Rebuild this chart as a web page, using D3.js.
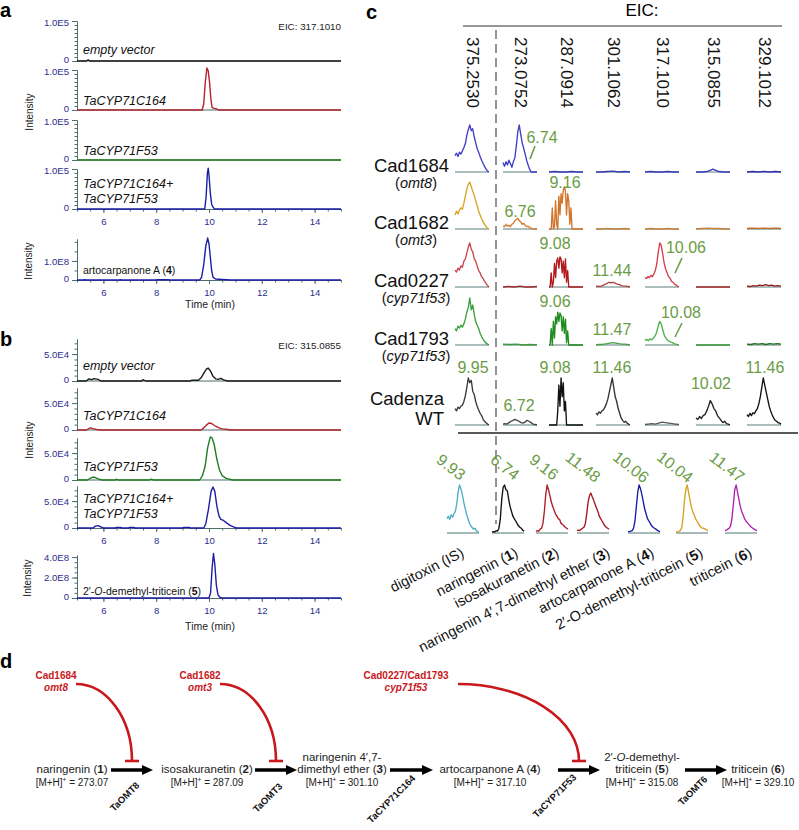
<!DOCTYPE html>
<html><head><meta charset="utf-8">
<script src="https://cdn.jsdelivr.net/npm/d3@7"></script>
<style>
body{margin:0;background:#fff}
svg{display:block;font-family:"Liberation Sans",Arial,Helvetica,sans-serif}
</style>
</head><body><svg id="fig" width="799" height="830"></svg>
<script>
// ================= DATA =================
// ---- panels a / b ----
const timeTicks = [6, 8, 10, 12, 14];
const sampleNames = ["empty vector", "TaCYP71C164", "TaCYP71F53", "TaCYP71C164+|TaCYP71F53"];
const sampleColors = ["#1b1b1b", "#b3232a", "#1f7d22", "#1d1da6"];
const eicA = "EIC: 317.1010";
const eicB = "EIC: 315.0855";
const aTickValues = [0, 1e5];
const aTickLabels = ["0", "1.0E5"];
const aStdTickValues = [0, 1e8];
const aStdTickLabels = ["0", "1.0E8"];
const bTickValues = [0, 5e4];
const bTickLabels = ["0", "5.0E4"];
const bStdTickValues = [0, 2e8, 4e8];
const bStdTickLabels = ["0", "2.0E8", "4.0E8"];
const aStdName = "artocarpanone A (**4**)";
const bStdName = "2′-_O_-demethyl-triticein (**5**)";

// [time (min), intensity]
const aTrace0 = [[5,0],[5.36,0],[5.42,3000],[5.48,0],[15,0]];
const aTrace1 = [[5,0],[9.74,0],[9.8,15000],[9.86,70000],[9.92,105000],[9.97,98000],[10.02,70000],[10.07,28000],[10.12,6000],[10.2,4000],[10.3,2500],[10.36,0],[15,0]];
const aTrace2 = [[5,0],[15,0]];
const aTrace3 = [[5,0],[9.84,0],[9.89,30000],[9.94,90000],[9.97,102000],[10.0,85000],[10.05,40000],[10.1,12000],[10.16,4000],[10.22,0],[15,0]];
const aStdTrace = [[5,0],[5.25,0],[5.3,2e6],[5.36,0],[6.6,0],[6.65,2e6],[6.7,0],[8.0,0],[8.05,1.5e6],[8.3,1e6],[8.45,2e6],[8.5,0],[9.65,0],[9.72,1.5e7],[9.8,8e7],[9.88,1.8e8],[9.95,2.2e8],[10.0,1.9e8],[10.05,1.2e8],[10.1,5e7],[10.15,1.5e7],[10.25,5e6],[10.5,3e6],[10.7,1e6],[10.8,0],[15,0]];

const bTrace0 = [[5,0],[5.35,0],[5.45,4000],[5.55,2500],[5.65,4500],[5.8,3000],[5.9,0],[7.45,0],[7.5,2500],[7.6,0],[9.3,0],[9.35,1500],[9.6,1500],[9.7,6000],[9.8,14000],[9.9,22000],[9.97,24000],[10.05,19000],[10.15,9000],[10.25,4000],[10.35,3000],[10.45,5000],[10.55,2000],[10.7,0],[15,0]];
const bTrace1 = [[5,0],[5.35,0],[5.5,4000],[5.6,2500],[5.75,1000],[5.9,0],[9.7,0],[9.8,4000],[9.9,9000],[10.0,13000],[10.1,12000],[10.25,7000],[10.4,3500],[10.5,2000],[10.65,1500],[10.8,0],[15,0]];
const bTrace2 = [[5,0],[5.4,0],[5.55,4500],[5.65,5500],[5.8,2000],[5.95,0],[6.45,0],[6.5,1500],[6.55,0],[7.75,0],[7.8,1500],[7.9,0],[9.65,0],[9.75,8000],[9.85,25000],[9.95,60000],[10.05,80000],[10.12,78000],[10.2,65000],[10.3,38000],[10.4,18000],[10.5,8000],[10.65,3000],[10.9,0],[15,0]];
const bTrace3 = [[5,0],[5.6,0],[5.7,3500],[5.8,4500],[5.9,2000],[6.0,0],[6.45,0],[6.5,1200],[6.65,1200],[6.7,0],[6.95,0],[7.0,1200],[7.15,1200],[7.2,0],[9.0,0],[9.05,1200],[9.25,1200],[9.3,0],[9.8,0],[9.88,8000],[9.98,35000],[10.08,68000],[10.15,76000],[10.22,68000],[10.3,40000],[10.38,22000],[10.45,16000],[10.55,14000],[10.65,10000],[10.8,5000],[10.95,1500],[11.05,0],[15,0]];
const bStdTrace = [[5,0],[10.0,0],[10.06,5e7],[10.12,3e8],[10.17,4.35e8],[10.22,3.3e8],[10.28,1.2e8],[10.34,3e7],[10.42,5e6],[10.5,0],[15,0]];

// ---- panel c ----
const eicMasses = ["375.2530","273.0752","287.0914","301.1062","317.1010","315.0855","329.1012"];
const lineNames = ["Cad1684","Cad1682","Cad0227","Cad1793","Cadenza"];
const lineSubs = ["(_omt8_)","(_omt3_)","(_cyp71f53_)","(_cyp71f53_)","WT"];
const lineColors = [
  ["#3f3fc9","#3f3fc9","#3a3ab8","#3a3ab8","#3a3ab8","#3a3ab8","#2f2fb0"],
  ["#d8a52a","#d47b2e","#d2742a","#c9823c","#c9823c","#c9823c","#c46a22"],
  ["#c9464f","#a52a2a","#b3181c","#b54545","#d2404c","#a82828","#8b1a1a"],
  ["#3aa03a","#3a9a3a","#1e8c1e","#4aa04a","#4cb04c","#3a9a3a","#1e6e1e"],
  ["#3a3a3a","#444444","#111111","#333333","#555555","#222222","#111111"]
];
// normalised traces, one per EIC column
const row1Traces = [
  [0.35,0.4,0.33,0.42,0.38,0.45,0.52,0.6,0.78,0.9,1.0,0.88,0.92,0.75,0.62,0.5,0.42,0.33,0.25,0.18,0.12,0.06,0.02,0.0],
  [0.2,0.12,0.22,0.15,0.25,0.18,0.1,0.22,0.3,0.55,0.85,1.0,0.8,0.62,0.5,0.38,0.25,0.15,0.06,0.0,0,0,0,0],
  [0,0.01,0,0,0.01,0,0],
  [0,0,0.01,0.02,0,0.01,0],
  [0,0.01,0,0,0.01,0,0],
  [0,0,0.01,0.06,0.01,0,0],
  [0,0.01,0,0.01,0,0.01,0]
];
const row2Traces = [
  [0.3,0.38,0.32,0.4,0.45,0.42,0.55,0.7,0.85,0.95,1.0,0.9,0.8,0.72,0.6,0.5,0.38,0.3,0.22,0.15,0.1,0.05,0.02,0],
  [0.06,0.05,0.1,0.06,0.08,0.05,0.1,0.12,0.18,0.2,0.23,0.18,0.15,0.1,0.12,0.08,0.05,0.06,0.03,0.02,0,0,0,0],
  [0,0,0,0.45,0,0.05,0.6,0.1,0,0.7,0.3,0.75,0.55,0.82,0.9,0.8,0.3,0.75,0.6,0.1,0.45,0,0,0,0,0,0,0,0,0,0,0],
  [0,0,0.01,0,0,0.01,0],
  [0,0.01,0,0,0.01,0,0],
  [0,0.01,0.02,0.01,0.01,0,0],
  [0.01,0.02,0.01,0.02,0.01,0.02,0.01]
];
const row3Traces = [
  [0.36,0.32,0.4,0.36,0.45,0.42,0.55,0.6,0.72,0.85,0.94,0.8,0.75,0.6,0.55,0.45,0.35,0.3,0.22,0.18,0.12,0.08,0.03,0.0],
  [0,0.01,0,0.02,0,0,0.01],
  [0,0,0.3,0,0.1,0.5,0.2,0.55,0.62,0.4,0.64,0.6,0.3,0.55,0.2,0.6,0.1,0.35,0,0,0,0,0,0,0,0,0,0,0,0,0,0],
  [0.01,0.02,0.01,0.03,0.05,0.07,0.1,0.09,0.1,0.08,0.06,0.05,0.03,0.02,0.02,0.01,0],
  [0.2,0.18,0.22,0.2,0.25,0.22,0.28,0.35,0.5,0.75,0.94,0.88,0.7,0.5,0.38,0.3,0.22,0.18,0.12,0.1,0.06,0.04,0.02,0],
  [0,0,0,0,0,0],
  [0.02,0.01,0.03,0.02,0.04,0.03,0.05,0.03,0.04,0.02,0.03,0.02]
];
const row4Traces = [
  [0.35,0.3,0.4,0.36,0.42,0.38,0.45,0.55,0.7,0.8,1.0,0.75,0.85,0.65,0.5,0.42,0.35,0.25,0.18,0.12,0.08,0.04,0.02,0],
  [0.02,0.01,0.02,0,0.01,0],
  [0,0,0.35,0,0.5,0.15,0.6,0.45,0.7,0.5,0.68,0.62,0.3,0.6,0.25,0.55,0.05,0.3,0,0,0,0,0,0,0,0,0,0,0,0,0,0],
  [0,0.01,0.01,0.02,0.03,0.04,0.05,0.04,0.03,0.02,0.02,0.01,0],
  [0.1,0.12,0.09,0.13,0.11,0.14,0.18,0.25,0.38,0.5,0.45,0.32,0.2,0.14,0.1,0.08,0.06,0.05,0.03,0.02,0.01,0],
  [0,0,0,0,0,0],
  [0.02,0.01,0.03,0.02,0.03,0.01,0.03,0.02,0.03,0.02]
];
const row5Traces = [
  [0.35,0.3,0.38,0.35,0.4,0.42,0.5,0.62,0.8,1.0,0.9,0.95,0.72,0.65,0.5,0.4,0.32,0.25,0.2,0.12,0.08,0.05,0.02,0],
  [0.02,0.03,0.02,0.05,0.08,0.1,0.12,0.1,0.08,0.05,0.04,0.06,0.1,0.08,0.05,0.02,0.01,0],
  [0,0,0,0,0,0,0,0,0.3,0.85,0.4,1.0,0.6,0.9,0.3,0.5,0,0,0,0,0,0,0,0,0,0,0,0,0,0,0,0],
  [0.25,0.22,0.28,0.25,0.3,0.32,0.38,0.45,0.55,0.7,0.85,1.0,0.8,0.6,0.5,0.35,0.25,0.15,0.1,0.06,0.08,0.04,0.02,0],
  [0.01,0.02,0.03,0.02,0.04,0.06,0.05,0.04,0.03,0.02,0.01],
  [0.15,0.12,0.18,0.14,0.2,0.22,0.3,0.4,0.52,0.45,0.35,0.3,0.2,0.15,0.1,0.05,0.08,0.03,0.02,0],
  [0.22,0.18,0.25,0.2,0.26,0.24,0.3,0.35,0.45,0.6,0.8,1.0,0.85,0.7,0.55,0.4,0.3,0.22,0.15,0.1,0.08,0.05,0.04,0.02]
];
const lineTraces = [row1Traces, row2Traces, row3Traces, row4Traces, row5Traces];
// retention-time annotations: [column index, label]
const lineRtLabels = [
  [[1,"6.74"]],
  [[1,"6.76"],[2,"9.16"]],
  [[2,"9.08"],[3,"11.44"],[4,"10.06"]],
  [[2,"9.06"],[3,"11.47"],[4,"10.08"]],
  [[0,"9.95"],[1,"6.72"],[2,"9.08"],[3,"11.46"],[5,"10.02"],[6,"11.46"]]
];
const stdNames = ["digitoxin (IS)","naringenin (**1**)","isosakuranetin (**2**)","naringenin 4′,7-dimethyl ether (**3**)","artocarpanone A (**4**)","2′-O-demethyl-triticein (**5**)","triticein (**6**)"];
const stdRts = ["9.93","6.74","9.16","11.48","10.06","10.04","11.47"];
const stdColors = ["#4fadc9","#111111","#b01c24","#a8161e","#1a1aa6","#d7a020","#b01fb0"];
const stdTraces = [
  [0.3,0.35,0.28,0.38,0.33,0.4,0.45,0.6,0.85,1.0,0.92,0.8,0.65,0.52,0.4,0.3,0.22,0.15,0.12,0.08,0.1,0.05,0.03,0.02],
  [0.02,0.03,0.02,0.05,0.04,0.1,0.3,0.7,0.95,1.0,0.9,0.88,0.7,0.55,0.45,0.35,0.3,0.25,0.2,0.15,0.12,0.1,0.06,0.04],
  [0.03,0.05,0.04,0.08,0.1,0.2,0.45,0.8,1.0,0.9,0.78,0.65,0.55,0.48,0.4,0.35,0.3,0.28,0.2,0.18,0.15,0.12,0.1,0.08],
  [0.05,0.06,0.05,0.08,0.1,0.12,0.2,0.4,0.65,0.78,0.83,0.75,0.68,0.6,0.52,0.45,0.35,0.3,0.25,0.2,0.15,0.12,0.1,0.08],
  [0.03,0.03,0.04,0.05,0.1,0.25,0.55,0.85,1.0,0.92,0.8,0.65,0.5,0.4,0.3,0.25,0.2,0.15,0.12,0.1,0.08,0.06,0.04,0.03],
  [0.02,0.02,0.03,0.05,0.1,0.3,0.65,0.9,1.0,0.85,0.7,0.55,0.45,0.38,0.3,0.25,0.2,0.15,0.12,0.1,0.1,0.08,0.06,0.05],
  [0.05,0.06,0.08,0.1,0.15,0.3,0.6,0.9,1.0,0.85,0.7,0.55,0.45,0.38,0.3,0.25,0.22,0.18,0.15,0.12,0.1,0.08,0.06,0.05]
];

// ---- panel d ----
const compoundNames = [["naringenin (**1**)"],["isosakuranetin (**2**)"],["naringenin 4′,7-","dimethyl ether (**3**)"],["artocarpanone A (**4**)"],["2′-_O_-demethyl-","triticein (**5**)"],["triticein (**6**)"]];
const compoundMz = ["273.07","287.09","301.10","317.10","315.08","329.10"];
const enzymes = ["TaOMT8","TaOMT3","TaCYP71C164","TaCYP71F53","TaOMT6"];
const mutantLines = ["Cad1684","Cad1682","Cad0227/Cad1793"];
const mutantGenes = ["omt8","omt3","cyp71f53"];
const mutantTargets = [0, 1, 3]; // which reaction step each mutant blocks

// ================= LAYOUT / STYLE =================
const AXIS = "#4f6f6d", TICKTXT = "#2e2e8c", GREEN = "#6a9c45", RED = "#c8181c";
const svg = d3.select("#fig");
svg.append("rect").attr("width",799).attr("height",830).attr("fill","#fff");

function rich(sel, str) {
  str.split(/(\*\*[^*]+\*\*|_[^_]+_)/).filter(s => s.length).forEach(p => {
    if (p.startsWith("**")) sel.append("tspan").attr("font-weight","bold").text(p.slice(2,-2));
    else if (p.startsWith("_")) sel.append("tspan").attr("font-style","italic").text(p.slice(1,-1));
    else sel.append("tspan").text(p);
  });
  return sel;
}
function panelLetter(t, x, y) {
  svg.append("text").attr("x",x).attr("y",y).attr("font-size",20).attr("font-weight","bold").text(t);
}

// ---------- panels a & b ----------
const xT = d3.scaleLinear().domain([5,15]).range([77,341]);
const lineT = (y) => d3.line().x(d => xT(d[0])).y(d => y(d[1]));

function styleAxis(g) {
  g.selectAll("path,line").attr("stroke",AXIS).attr("stroke-width",1);
  g.selectAll("text").attr("fill",TICKTXT).attr("font-size",9.6).attr("font-family","Liberation Sans,Arial,sans-serif");
}
function drawSub(o) {
  const y = d3.scaleLinear().domain([0,o.max]).range([o.zero,o.top]);
  const g = svg.append("g");
  if (o.xaxis) {
    const gm = g.append("g").attr("transform",`translate(0,${o.zero})`)
      .call(d3.axisBottom(xT).tickValues(d3.range(5,15.01,0.5)).tickSize(2.5).tickSizeOuter(0).tickFormat(""));
    styleAxis(gm);
    const gx = g.append("g").attr("transform",`translate(0,${o.zero})`)
      .call(d3.axisBottom(xT).tickValues(timeTicks).tickSize(4).tickSizeOuter(0).tickPadding(5));
    styleAxis(gx);
  } else {
    g.append("line").attr("x1",77).attr("x2",341).attr("y1",o.zero).attr("y2",o.zero).attr("stroke",AXIS).attr("stroke-width",1.2);
  }
  const gmy = g.append("g").attr("transform","translate(77,0)")
    .call(d3.axisLeft(y).tickValues(d3.range(0,o.max+1,o.minor)).tickSize(2.5).tickSizeOuter(0).tickFormat(""));
  styleAxis(gmy);
  const gy = g.append("g").attr("transform","translate(77,0)")
    .call(d3.axisLeft(y).tickValues(o.ticks).tickSize(5).tickSizeOuter(0).tickPadding(3).tickFormat((d,i) => o.labels[i]));
  styleAxis(gy);
  // nudge crowded tick labels apart (zero label down, top label up)
  gy.selectAll(".tick text").attr("dy", (d,i) => i === 0 ? "0.2em" : (i === o.ticks.length-1 && o.nudgeTop ? "0.45em" : "0.32em"));
  g.append("path").datum(o.trace).attr("d",lineT(y)).attr("fill","none").attr("stroke",o.color).attr("stroke-width",1.4).attr("stroke-linejoin","round");
  if (o.name) {
    const parts = o.name.split("|");
    parts.forEach((p,i) => {
      const t = g.append("text").attr("x",83).attr("y",o.nameY + i*15 - (parts.length-1)*15)
        .attr("font-size",o.nameSize).attr("fill","#111");
      if (o.italic) t.attr("font-style","italic");
      rich(t, p);
    });
  }
  return y;
}
function intensityLabel(x, y) {
  svg.append("text").attr("transform",`translate(${x},${y}) rotate(-90)`).attr("text-anchor","middle")
    .attr("font-size",10).attr("fill","#222").text("Intensity");
}
function timeLabel(y) {
  svg.append("text").attr("x",210).attr("y",y).attr("text-anchor","middle").attr("font-size",10.5).attr("fill","#222").text("Time (min)");
}

// panel a
panelLetter("a", 0, 17);
svg.append("text").attr("x",341).attr("y",30).attr("text-anchor","end").attr("font-size",9.8).attr("fill","#222").text(eicA);
const aTraces = [aTrace0, aTrace1, aTrace2, aTrace3];
const aZeros = [61, 110, 160, 209];
const aNameOffs = [7, 5, 5, 6];
aTraces.forEach((tr,i) => drawSub({zero:aZeros[i], top:aZeros[i]-40, max:1e5, minor:1e4, ticks:aTickValues, labels:aTickLabels,
  trace:tr, color:sampleColors[i], xaxis:i===3, name:sampleNames[i], nameY:aZeros[i]-aNameOffs[i], nameSize:12.5, italic:true, nudgeTop:true}));
drawSub({zero:280, top:239, max:2.15e8, minor:5e7, ticks:aStdTickValues, labels:aStdTickLabels, trace:aStdTrace,
  color:sampleColors[3], xaxis:true, name:aStdName, nameY:274, nameSize:10.5});
intensityLabel(33, 112); intensityLabel(32, 261);
timeLabel(308);

// panel b
panelLetter("b", 0, 346);
svg.append("text").attr("x",341).attr("y",349).attr("text-anchor","end").attr("font-size",9.8).attr("fill","#222").text(eicB);
const bTraces = [bTrace0, bTrace1, bTrace2, bTrace3];
const bZeros = [381, 430, 480, 528];
const bNameOffs = [11, 10, 9, 10];
bTraces.forEach((tr,i) => drawSub({zero:bZeros[i], top:bZeros[i]-42, max:7.8e4, minor:1e4, ticks:bTickValues, labels:bTickLabels,
  trace:tr, color:sampleColors[i], xaxis:i===3, name:sampleNames[i], nameY:bZeros[i]-bNameOffs[i], nameSize:12.5, italic:true}));
drawSub({zero:598, top:555, max:4.2e8, minor:5e7, ticks:bStdTickValues, labels:bStdTickLabels, trace:bStdTrace,
  color:sampleColors[3], xaxis:true, name:bStdName, nameY:595, nameSize:10.5});
intensityLabel(33, 440); intensityLabel(31, 578);
timeLabel(630);

// ---------- panel c ----------
panelLetter("c", 366, 19);
svg.append("text").attr("x",642).attr("y",16).attr("text-anchor","middle").attr("font-size",17).text("EIC:");
svg.append("line").attr("x1",463).attr("x2",782).attr("y1",26).attr("y2",26).attr("stroke","#333").attr("stroke-width",1.2);
const colX = d3.scaleOrdinal().domain(eicMasses).range([472,520,566,613,662,713,764]);
const rowY = d3.scaleOrdinal().domain(lineNames).range([172,229,287,345,425]);
eicMasses.forEach(m => {
  svg.append("text").attr("transform",`translate(${colX(m)},37) rotate(90)`).attr("dominant-baseline","central")
    .attr("font-size",17).attr("fill","#111").text(m);
});
svg.append("line").attr("x1",496).attr("x2",496).attr("y1",30).attr("y2",524).attr("stroke","#888").attr("stroke-width",1.8).attr("stroke-dasharray","9,5");
svg.append("line").attr("x1",458).attr("x2",798).attr("y1",433).attr("y2",433).attr("stroke","#222").attr("stroke-width",1.3);

function miniTrace(cx, base, vals, color, halfW, h) {
  const xs = d3.scaleLinear().domain([0, vals.length-1]).range([cx-halfW, cx+halfW]);
  const ys = d3.scaleLinear().domain([0,1]).range([base, base-h]);
  svg.append("line").attr("x1",cx-halfW).attr("x2",cx+halfW).attr("y1",base).attr("y2",base).attr("stroke","#8fa9a7").attr("stroke-width",1.6);
  svg.append("path").datum(vals).attr("d", d3.line().x((d,i)=>xs(i)).y(d=>ys(d)))
    .attr("fill","none").attr("stroke",color).attr("stroke-width",1.35).attr("stroke-linejoin","round");
}
lineNames.forEach((ln, r) => {
  const base = rowY(ln);
  eicMasses.forEach((m, c) => miniTrace(colX(m), base, lineTraces[r][c], lineColors[r][c], 17, 47));
  if (r < 4) {
    svg.append("text").attr("x",449).attr("y",base).attr("text-anchor","end").attr("font-size",18.5).attr("fill","#111").text(ln);
    rich(svg.append("text").attr("x",416).attr("y",base+16).attr("text-anchor","middle").attr("font-size",14.5).attr("fill","#111"), lineSubs[r]);
  } else {
    svg.append("text").attr("x",444).attr("y",base-20).attr("text-anchor","end").attr("font-size",18.5).attr("fill","#111").text(ln);
    svg.append("text").attr("x",444).attr("y",base).attr("text-anchor","end").attr("font-size",18.5).attr("fill","#111").text(lineSubs[r]);
  }
});
const rtOffsets = [
  [[22,29]],
  [[0,12],[-1,41]],
  [[-11,38],[-1,11],[24,34]],
  [[-11,38],[-1,10],[19,27]],
  [[1,52],[-1,14],[-11,52],[-1,52],[-2,36],[1,52]]
];
lineRtLabels.forEach((row, r) => row.forEach((a, k) => {
  const [dx, dy] = rtOffsets[r][k];
  svg.append("text").attr("x", colX(eicMasses[a[0]]) + dx).attr("y", rowY(lineNames[r]) - dy)
    .attr("text-anchor","middle").attr("font-size",16).attr("fill",GREEN).text(a[1]);
}));
const slashes = [[0,1,15,-26,10,-13],[2,4,20,-29,13,-14],[3,4,20,-22,13,-8]];
slashes.forEach(s => {
  const cx = colX(eicMasses[s[1]]), b = rowY(lineNames[s[0]]);
  svg.append("line").attr("x1",cx+s[2]).attr("y1",b+s[3]).attr("x2",cx+s[4]).attr("y2",b+s[5]).attr("stroke",GREEN).attr("stroke-width",1.6);
});
const stdX = d3.scaleOrdinal().domain(stdNames).range([463,508,552,593,644,692,741]);
const stdBase = 533;
const stdRtDx = [-12,-3,-8,-10,-13,-17,-14];
const stdNameDx = [2,11,8,18,11,12,12];
stdNames.forEach((n,i) => {
  const cx = stdX(n);
  miniTrace(cx, stdBase, stdTraces[i], stdColors[i], 16, 48);
  svg.append("text").attr("transform",`translate(${cx+stdRtDx[i]},467) rotate(38)`).attr("text-anchor","middle")
    .attr("dominant-baseline","central").attr("font-size",16).attr("fill",GREEN).text(stdRts[i]);
  rich(svg.append("text").attr("transform",`translate(${cx+stdNameDx[i]},556) rotate(-27)`).attr("text-anchor","end")
    .attr("font-size",14.5).attr("fill","#111"), n);
});

// ---------- panel d ----------
panelLetter("d", 0, 668);
const compX = [72, 207, 342, 490, 642, 758];
const arrowX = [[111,153],[255,297],[390,433],[558,600],[685,727]];
const arrowY = 770;
const enzEnd = [[140,786],[283,787],[416,779],[577,778],[708,780]];
compoundNames.forEach((lines, i) => {
  lines.forEach((l, k) => {
    rich(svg.append("text").attr("x",compX[i]).attr("y",773 - (lines.length-1-k)*12).attr("text-anchor","middle")
      .attr("font-size",11.5).attr("fill","#222"), l);
  });
  const t = svg.append("text").attr("x",compX[i]).attr("y",786).attr("text-anchor","middle").attr("font-size",10).attr("fill","#222");
  t.append("tspan").text("[M+H]");
  t.append("tspan").attr("font-size",6.5).attr("dy",-4).text("+");
  t.append("tspan").attr("dy",4).text(" = " + compoundMz[i]);
});
enzymes.forEach((e, i) => {
  const [x1, x2] = arrowX[i];
  svg.append("line").attr("x1",x1).attr("x2",x2-8).attr("y1",arrowY).attr("y2",arrowY).attr("stroke","#000").attr("stroke-width",3.6);
  svg.append("path").attr("d",`M${x2},${arrowY} L${x2-11},${arrowY-5} L${x2-11},${arrowY+5} Z`).attr("fill","#000");
  svg.append("text").attr("transform",`translate(${enzEnd[i][0]},${enzEnd[i][1]}) rotate(-45)`).attr("text-anchor","end")
    .attr("font-size",9.5).attr("font-weight","bold").attr("fill","#111").text(e);
});
const mutX = [56, 200, 406];
const arcStart = [76, 220, 458];
mutantLines.forEach((m, i) => {
  svg.append("text").attr("x",mutX[i]).attr("y",679).attr("text-anchor","middle").attr("font-size",10).attr("font-weight","bold").attr("fill",RED).text(m);
  svg.append("text").attr("x",mutX[i]).attr("y",691).attr("text-anchor","middle").attr("font-size",10).attr("font-weight","bold").attr("font-style","italic").attr("fill",RED).text(mutantGenes[i]);
  const tx = (arrowX[mutantTargets[i]][0] + arrowX[mutantTargets[i]][1]) / 2;
  const sx = arcStart[i], sy = 684, ey = 761;
  svg.append("path").attr("d",`M${sx},${sy} A${tx-sx},${ey-sy} 0 0 1 ${tx},${ey}`).attr("fill","none").attr("stroke",RED).attr("stroke-width",2.6);
  svg.append("line").attr("x1",tx-7).attr("x2",tx+7).attr("y1",ey).attr("y2",ey).attr("stroke",RED).attr("stroke-width",2.6);
});
</script></body></html>
